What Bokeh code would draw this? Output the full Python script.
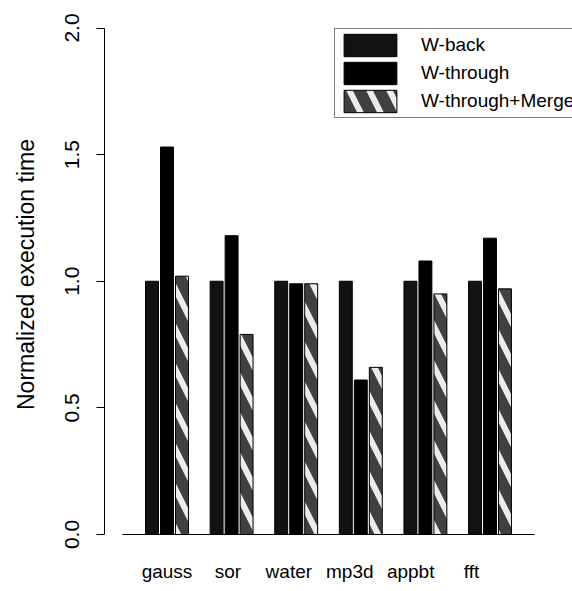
from bokeh.plotting import figure
from bokeh.models import (Range1d, FixedTicker, PrintfTickFormatter, Legend,
                          LegendItem, ColumnDataSource)
from bokeh.transform import dodge
from bokeh.embed import file_html
from bokeh.resources import INLINE

# Normalized execution time per benchmark and write policy
benchmarks = ["gauss", "sor", "water", "mp3d", "appbt", "fft"]
w_back = [1.00, 1.00, 1.00, 1.00, 1.00, 1.00]
w_through = [1.53, 1.18, 0.99, 0.61, 1.08, 1.17]
w_through_merge = [1.02, 0.79, 0.99, 0.66, 0.95, 0.97]
series_names = ["W-back", "W-through", "W-through+Merge"]
y_ticks = [0.0, 0.5, 1.0, 1.5, 2.0]

FONT = "Liberation Sans"
BAR_PITCH = 0.232    # offset between neighbouring bars in a group (group units)
BAR_W = 0.20
LABEL_STEP = 0.943   # benchmark names are spaced a little tighter than the groups

xs = list(range(len(benchmarks)))
src = ColumnDataSource(dict(x=xs, back=w_back, through=w_through,
                            merge=w_through_merge))

p = figure(width=572, height=591, output_backend="svg", toolbar_location=None,
           x_range=Range1d(-0.9675, 6.277), y_range=Range1d(-0.0553, 2.1086),
           min_border_left=104, min_border_right=0, min_border_top=0,
           min_border_bottom=43, title=None)
p.outline_line_color = None
p.xgrid.visible = False
p.ygrid.visible = False

r_back = p.vbar(x=dodge("x", -BAR_PITCH), top="back", width=BAR_W, source=src,
                fill_color="#121212", line_color="black", line_width=1)
r_through = p.vbar(x="x", top="through", width=BAR_W, source=src,
                   fill_color="#000000", line_color="black", line_width=1)
r_merge = p.vbar(x=dodge("x", BAR_PITCH), top="merge", width=BAR_W, source=src,
                 fill_color="#404040", line_color="black", line_width=1,
                 hatch_pattern="\\", hatch_color="white", hatch_scale=40,
                 hatch_weight=6, hatch_alpha=0.9)

# baseline under the bars
p.line(x=[xs[0] - 0.69, xs[-1] + 0.69], y=[0, 0], line_color="black",
       line_width=1.2)

# y axis
ya = p.yaxis[0]
ya.bounds = (0, 2)
ya.ticker = FixedTicker(ticks=y_ticks)
ya.formatter = PrintfTickFormatter(format="%.1f")
ya.major_label_orientation = "vertical"
ya.minor_tick_line_color = None
ya.major_tick_in = 0
ya.major_tick_out = 8
ya.major_label_standoff = 17
ya.major_label_text_font = FONT
ya.major_label_text_font_size = "21px"
ya.major_label_text_color = "black"
ya.axis_line_color = "black"
ya.major_tick_line_color = "black"
ya.axis_label = "Normalized execution time"
ya.axis_label_text_font = FONT
ya.axis_label_text_font_size = "23px"
ya.axis_label_text_font_style = "normal"
ya.axis_label_text_color = "black"
ya.axis_label_standoff = 24

# x axis: benchmark names only
label_pos = [i * LABEL_STEP for i in xs]
xa = p.xaxis[0]
xa.ticker = FixedTicker(ticks=label_pos)
xa.major_label_overrides = {pos: name for pos, name in zip(label_pos, benchmarks)}
xa.axis_line_color = None
xa.major_tick_line_color = None
xa.minor_tick_line_color = None
xa.major_tick_out = 0
xa.major_label_standoff = 12
xa.major_label_text_font = FONT
xa.major_label_text_font_size = "19px"
xa.major_label_text_color = "black"

legend = Legend(
    items=[LegendItem(label=n, renderers=[r])
           for n, r in zip(series_names, [r_back, r_through, r_merge])],
    location=(230, 430), orientation="vertical",
    border_line_color="black", border_line_width=1,
    background_fill_color="white", background_fill_alpha=1.0,
    padding=2, spacing=0, margin=0,
    glyph_width=66, glyph_height=28, label_height=25, label_standoff=18,
    label_text_font=FONT, label_text_font_size="19px", label_text_color="black",
)
p.add_layout(legend)

open("out.html", "w").write(file_html(p, INLINE))
